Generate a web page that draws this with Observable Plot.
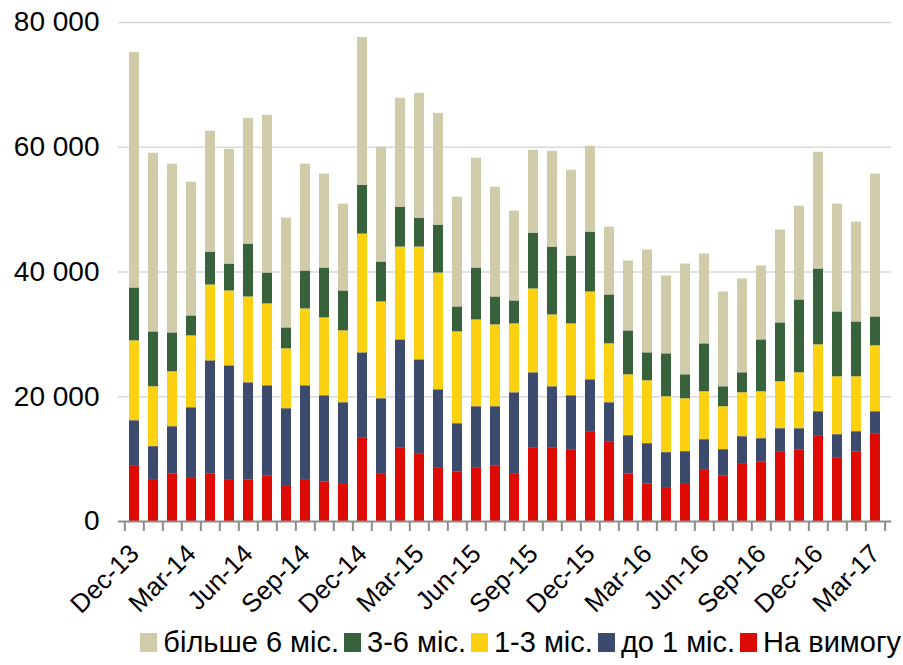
<!DOCTYPE html>
<html><head><meta charset="utf-8">
<script src="https://cdn.jsdelivr.net/npm/d3@7"></script>
<script src="https://cdn.jsdelivr.net/npm/@observablehq/plot@0.6"></script>
<style>
body{margin:0;background:#fff;font-family:"Liberation Sans",Arial,sans-serif;}
#chart svg{display:block;}
#legend{display:flex;align-items:center;justify-content:flex-end;width:901px;height:40px;margin-top:12px;padding-right:2px;font-size:29px;line-height:1;color:#000;}
.item{display:flex;align-items:center;margin-left:5px;}
.sw{width:17px;height:19px;margin-right:6px;}
</style></head><body>
<div id="chart"></div>
<div id="legend"></div>
<script>
const months = ["Dec-13","Jan-14","Feb-14","Mar-14","Apr-14","May-14","Jun-14","Jul-14","Aug-14","Sep-14","Oct-14","Nov-14","Dec-14",
"Jan-15","Feb-15","Mar-15","Apr-15","May-15","Jun-15","Jul-15","Aug-15","Sep-15","Oct-15","Nov-15","Dec-15",
"Jan-16","Feb-16","Mar-16","Apr-16","May-16","Jun-16","Jul-16","Aug-16","Sep-16","Oct-16","Nov-16","Dec-16",
"Jan-17","Feb-17","Mar-17"];
const tickLabels = ["Dec-13","Mar-14","Jun-14","Sep-14","Dec-14","Mar-15","Jun-15","Sep-15","Dec-15","Mar-16","Jun-16","Sep-16","Dec-16","Mar-17"];
const yTicks = [0,20000,40000,60000,80000];

const naVymohu = [8960,6720,7570,7040,7570,6720,6610,7250,5760,6720,6290,6080,13330,7680,11840,10880,8640,7890,8640,8850,7680,11840,11840,11520,14290,12690,7570,5970,5440,6080,8320,7250,9280,9490,11200,11410,13650,10240,11090,13970];
const do1 = [7200,5280,7630,11200,18190,18240,15630,14510,12320,15040,13870,12960,13710,12000,17280,15040,12480,7790,9760,9550,12960,12000,9760,8640,8430,6350,6190,6510,5600,5120,4800,4270,4320,3790,3680,3470,3950,3680,3310,3630];
const m1_3 = [12800,9600,8800,11520,12160,12000,13760,13120,9600,12320,12480,11520,19040,15520,14880,18080,18720,14720,13920,13120,11040,13440,11520,11520,14080,9440,9760,10080,8960,8480,7680,6880,7040,7520,7520,8960,10720,9280,8800,10560];
const m3_6 = [8480,8800,6240,3200,5280,4320,8480,4960,3360,6080,8000,6400,7840,6400,6400,4640,7680,4000,8320,4480,3680,8960,10880,10880,9600,7840,7040,4480,6880,3840,7680,3200,3200,8320,9440,11680,12160,10400,8800,4640];
const over6 = [37760,28640,27040,21440,19360,18400,20160,25280,17600,17120,15040,13920,23680,18400,17440,20000,17920,17600,17600,17600,14400,13280,15360,13760,13760,10880,11200,16480,12480,17760,14400,15200,15040,11840,14880,15040,18720,17280,16000,22880];

// bottom to top
const seriesNames = ["На вимогу","до 1 міс.","1-3 міс.","3-6 міс.","більше 6 міс."];
const seriesValues = [naVymohu, do1, m1_3, m3_6, over6];
const colors = ["#de0b05","#3c4a6d","#fbd111","#38623b","#d0cba9"];

const data = [];
months.forEach((m, i) => {
  seriesNames.forEach((s, j) => data.push({month: m, series: s, value: seriesValues[j][i]}));
});

const W = 903, H = 610, ML = 118, MR = 11.7;
const step = (W - ML - MR) / months.length;
const fmt = d => d3.format(",")(d).replace(/,/g, " ");
const font = "Liberation Sans, Arial, sans-serif";

const chart = Plot.plot({
  width: W, height: H,
  marginLeft: ML, marginRight: MR, marginTop: 22, marginBottom: 89,
  style: {fontFamily: font, fontSize: "28px", background: "#fff", color: "#000", overflow: "visible"},
  x: {domain: months, paddingInner: 0.48, paddingOuter: 0.24, label: null},
  y: {domain: [0, 80000], label: null},
  color: {domain: seriesNames, range: colors},
  marks: [
    Plot.gridY(yTicks.slice(1), {stroke: "#d9d9d9", strokeOpacity: 1, strokeWidth: 1.5}),
    Plot.barY(data, {x: "month", y: "value", fill: "series"}),
    Plot.ruleY([0], {stroke: "#8c8c8c", strokeWidth: 2}),
    Plot.axisY({ticks: yTicks, tickSize: 0, tickPadding: 19, tickFormat: fmt, fontSize: 28, fill: "#000"}),
    Plot.axisX({ticks: months, tickSize: 10, tickFormat: () => "", dx: -step / 2, stroke: "#8c8c8c", strokeWidth: 2}),
    Plot.axisX({ticks: [months[months.length - 1]], tickSize: 10, tickFormat: () => "", dx: step / 2, stroke: "#8c8c8c", strokeWidth: 2}),
    Plot.axisX({ticks: tickLabels, tickSize: 0, tickPadding: 28, tickRotate: -45, fontSize: 26, fill: "#000"})
  ]
});
document.getElementById("chart").appendChild(chart);

const legend = document.getElementById("legend");
for (let j = seriesNames.length - 1; j >= 0; j--) {
  const it = document.createElement("div");
  it.className = "item";
  const sw = document.createElement("div");
  sw.className = "sw";
  sw.style.background = colors[j];
  const tx = document.createElement("span");
  tx.textContent = seriesNames[j];
  it.appendChild(sw); it.appendChild(tx);
  legend.appendChild(it);
}
</script></body></html>
